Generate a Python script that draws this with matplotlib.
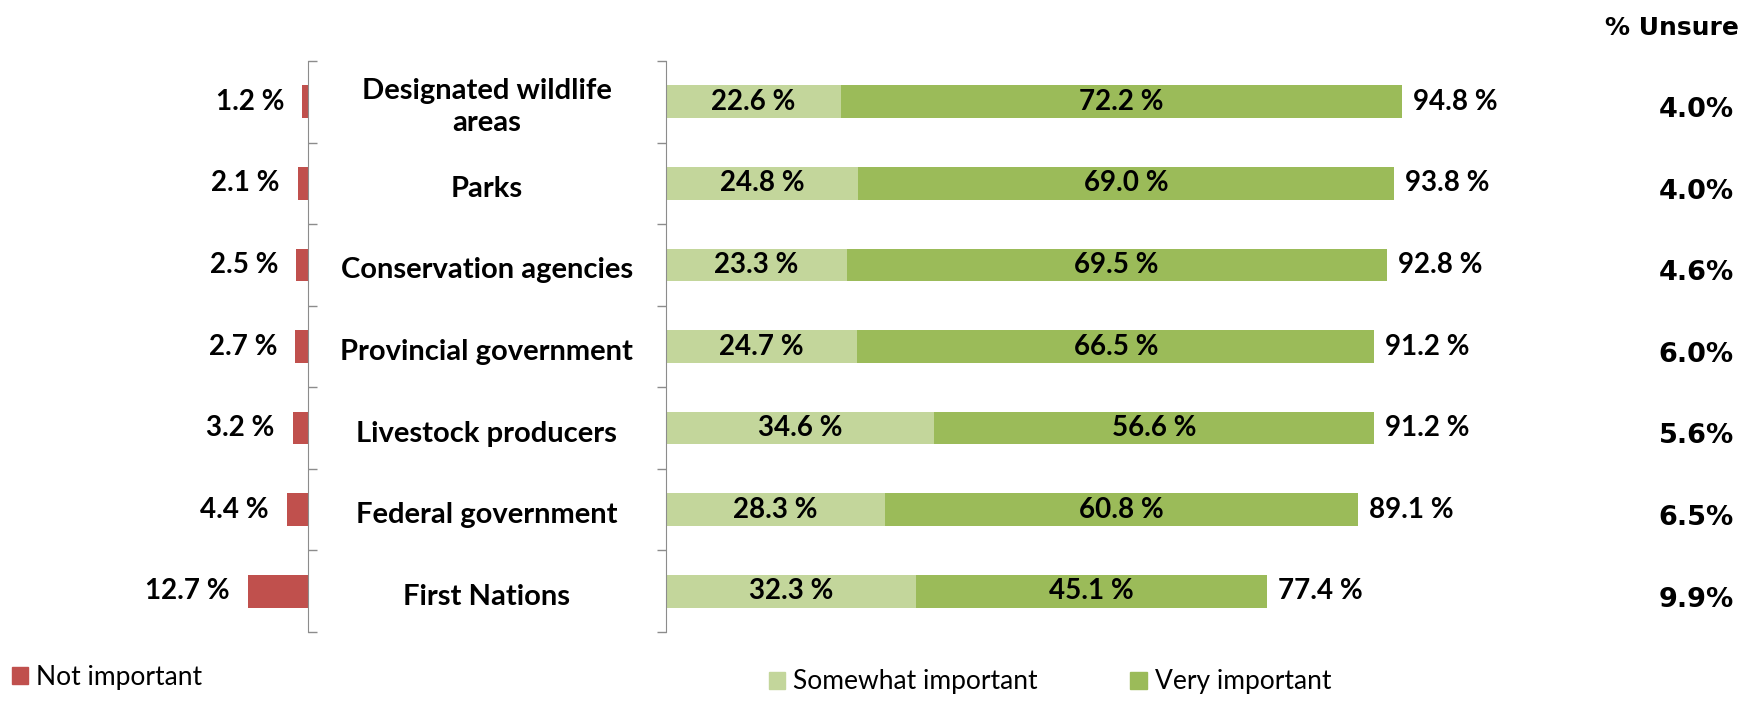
import matplotlib.pyplot as plt
from matplotlib.patches import Patch
from matplotlib.transforms import blended_transform_factory

plt.rcParams["font.family"] = ["Lato", "DejaVu Sans"]

categories = [
    "Designated wildlife\nareas",
    "Parks",
    "Conservation agencies",
    "Provincial government",
    "Livestock producers",
    "Federal government",
    "First Nations",
]
not_important = [1.2, 2.1, 2.5, 2.7, 3.2, 4.4, 12.7]
somewhat_important = [22.6, 24.8, 23.3, 24.7, 34.6, 28.3, 32.3]
very_important = [72.2, 69.0, 69.5, 66.5, 56.6, 60.8, 45.1]
unsure = [4.0, 4.0, 4.6, 6.0, 5.6, 6.5, 9.9]

RED = "#C0504D"
LIGHT_GREEN = "#C3D69B"
GREEN = "#9BBB59"
AXIS_GREY = "#8C8C8C"
LABEL_SIZE = 20

W, H = 1748, 702
fig = plt.figure(figsize=(W / 100, H / 100), dpi=100)

top_px, bottom_px = 61, 632
ax_bottom = 1 - bottom_px / H
ax_height = (bottom_px - top_px) / H
red_axis_px = 308
green_axis_px = 665.5

ax_red = fig.add_axes([0, ax_bottom, red_axis_px / W, ax_height])
ax_green = fig.add_axes([green_axis_px / W, ax_bottom, 777 / W, ax_height])

rows = list(range(len(categories)))
bar_h = 0.4
boundaries = [r - 0.5 for r in rows] + [rows[-1] + 0.5]

# left panel: "not important" bars growing leftwards
ax_red.barh(rows, not_important, height=bar_h, color=RED)
ax_red.set_xlim(65, 0)
for r, v in zip(rows, not_important):
    ax_red.annotate(f"{v:.1f} %", (v, r), xytext=(-13, 0), textcoords="offset points",
                    ha="right", va="center", fontsize=LABEL_SIZE, fontweight="bold")

# right panel: stacked importance bars
ax_green.barh(rows, somewhat_important, height=bar_h, color=LIGHT_GREEN)
ax_green.barh(rows, very_important, left=somewhat_important, height=bar_h, color=GREEN)
ax_green.set_xlim(0, 100)
for r, s, v in zip(rows, somewhat_important, very_important):
    ax_green.text(s / 2, r, f"{s:.1f} %", ha="center", va="center",
                  fontsize=LABEL_SIZE, fontweight="bold")
    ax_green.text(s + v / 2, r, f"{v:.1f} %", ha="center", va="center",
                  fontsize=LABEL_SIZE, fontweight="bold")
    ax_green.annotate(f"{s + v:.1f} %", (s + v, r), xytext=(8, 0),
                      textcoords="offset points", ha="left", va="center",
                      fontsize=LABEL_SIZE, fontweight="bold")

for ax in (ax_red, ax_green):
    ax.set_ylim(len(categories) - 0.5, -0.5)
    ax.set_xticks([])
    ax.set_yticks(boundaries)
    ax.set_yticklabels([])
    ax.tick_params(axis="y", direction="out", length=6.5, color=AXIS_GREY, width=1)
    for side in ("top", "bottom", "left", "right"):
        ax.spines[side].set_visible(False)
    ax.patch.set_alpha(0)

ax_red.yaxis.tick_right()
ax_red.spines["right"].set_visible(True)
ax_red.spines["right"].set_color(AXIS_GREY)
ax_green.spines["left"].set_visible(True)
ax_green.spines["left"].set_color(AXIS_GREY)

# category names between the two panels
label_x = (red_axis_px + green_axis_px) / 2 / W
cat_tr = blended_transform_factory(fig.transFigure, ax_green.transData)
for r, name in zip(rows, categories):
    ax_green.annotate(name, (label_x, r), xycoords=cat_tr, xytext=(0, -4),
                      textcoords="offset points", ha="center", va="center",
                      fontsize=21, fontweight="bold", linespacing=1.3)

# unsure column on the far right
unsure_x = 1734 / W
for r, u in zip(rows, unsure):
    ax_green.annotate(f"{u:.1f}%", (unsure_x, r), xycoords=cat_tr, xytext=(0, -6),
                      textcoords="offset points", ha="right", va="center",
                      fontsize=19.5, fontweight="bold", family="DejaVu Sans")
fig.text(1739 / W, 1 - 28 / H, "% Unsure", ha="right", va="center",
         fontsize=18, fontweight="bold", family="DejaVu Sans")

# legends
leg_kw = dict(frameon=False, fontsize=19, handlelength=0.62, handleheight=0.62,
              handletextpad=0.3, borderaxespad=0, borderpad=0)
fig.legend(handles=[Patch(color=RED, label="Not important")],
           loc="center left", bbox_to_anchor=(12 / W, 1 - 677 / H), **leg_kw)
fig.legend(handles=[Patch(color=LIGHT_GREEN, label="Somewhat important"),
                    Patch(color=GREEN, label="Very important")],
           loc="center left", bbox_to_anchor=(769 / W, 1 - 682 / H), ncol=2,
           columnspacing=3.5, **leg_kw)

fig.savefig("out.png", dpi=100)
